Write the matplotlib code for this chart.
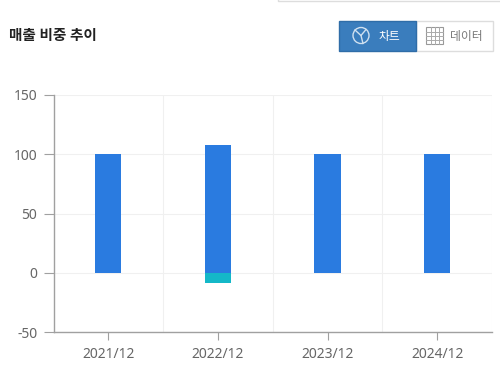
'''Stacked bar chart of revenue share with the chart/data toggle on top.'''

import matplotlib
matplotlib.use('Agg')
import matplotlib.pyplot as plt
from matplotlib.patches import Circle, Rectangle

plt.rcParams['font.family'] = ['Noto Sans', 'Noto Sans CJK KR', 'DejaVu Sans']
plt.rcParams['axes.unicode_minus'] = False

TITLE = '매출 비중 추이'
PERIODS = ['2021/12', '2022/12', '2023/12', '2024/12']
MAIN_SHARE = [100, 107.5, 100, 100]
OTHER_SHARE = [0, -8.5, 0, 0]
Y_TICKS = [-50, 0, 50, 100, 150]

W, H = 500, 376
AXIS_GREY = '#a0a0a0'
GRID_GREY = '#f0f0f0'
TEXT_GREY = '#666666'

fig = plt.figure(figsize=(W/100, H/100), dpi=100)

# chart area, in pixel position of the reference
ax = fig.add_axes([54/W, 1 - 332/H, 438/W, 237/H])
x_pos = [0, 1, 2, 3]

ax.bar(x_pos, MAIN_SHARE, width=0.24, color='#2a7be0', zorder=3)
ax.bar(x_pos, OTHER_SHARE, width=0.24, color='#14b8c8', zorder=3)

ax.set_xlim(-0.495, 3.5)
ax.set_ylim(-50, 150)
ax.set_yticks(Y_TICKS)
ax.set_xticks(x_pos)
ax.set_xticklabels(PERIODS)
ax.set_xticks([0.5, 1.5, 2.5, 3.5], minor=True)
ax.grid(True, which='minor', axis='x', color=GRID_GREY, lw=0.8, zorder=0)
ax.grid(True, which='major', axis='y', color=GRID_GREY, lw=0.8, zorder=0)
ax.tick_params(axis='x', which='minor', length=0)
ax.tick_params(axis='x', which='major', length=6, width=0.8, color=AXIS_GREY,
               labelsize=10, labelcolor=TEXT_GREY, pad=5)
ax.tick_params(axis='y', length=7, width=0.8, color=AXIS_GREY,
               labelsize=10, labelcolor=TEXT_GREY, pad=5)
for side in ['top', 'right']:
    ax.spines[side].set_visible(False)
for side in ['left', 'bottom']:
    ax.spines[side].set_color(AXIS_GREY)
    ax.spines[side].set_linewidth(1)

# page furniture drawn in pixel coordinates
ui = fig.add_axes([0, 0, 1, 1], zorder=5)
ui.set_xlim(0, W)
ui.set_ylim(H, 0)
ui.axis('off')

ui.text(9, 36.5, TITLE, size=10.5, weight='bold', color='#222222', va='center')
ui.plot([278, 278, 500], [0, 1, 1], color='#dddddd', lw=1)

# toggle buttons
ui.add_patch(Rectangle((416, 20.5), 77, 30.5, fc='white', ec='#dddddd', lw=1))
ui.add_patch(Rectangle((338.5, 20.5), 77.5, 30.5, fc='#3a7dbd', ec='#2f6da8', lw=1))

ui.add_patch(Circle((361, 35.5), 8, fc='none', ec='#cfe0f0', lw=1))
ui.plot([361, 363], [35.5, 43.5], color='#cfe0f0', lw=1)
ui.plot([355, 361, 366], [30, 35.5, 29.5], color='#cfe0f0', lw=1)
ui.text(389, 36.5, '차트', size=8.5, color='white', ha='center', va='center')

ui.add_patch(Rectangle((426, 27), 17, 17, fc='none', ec='#999999', lw=0.8))
for offset in [4, 8, 12]:
    ui.plot([426, 443], [28 + offset]*2, color='#aaaaaa', lw=0.7)
    ui.plot([427 + offset]*2, [27, 44], color='#aaaaaa', lw=0.7)
ui.text(466, 36.5, '데이터', size=8.5, color='#777777', ha='center', va='center')

fig.savefig('out.png', dpi=100)
